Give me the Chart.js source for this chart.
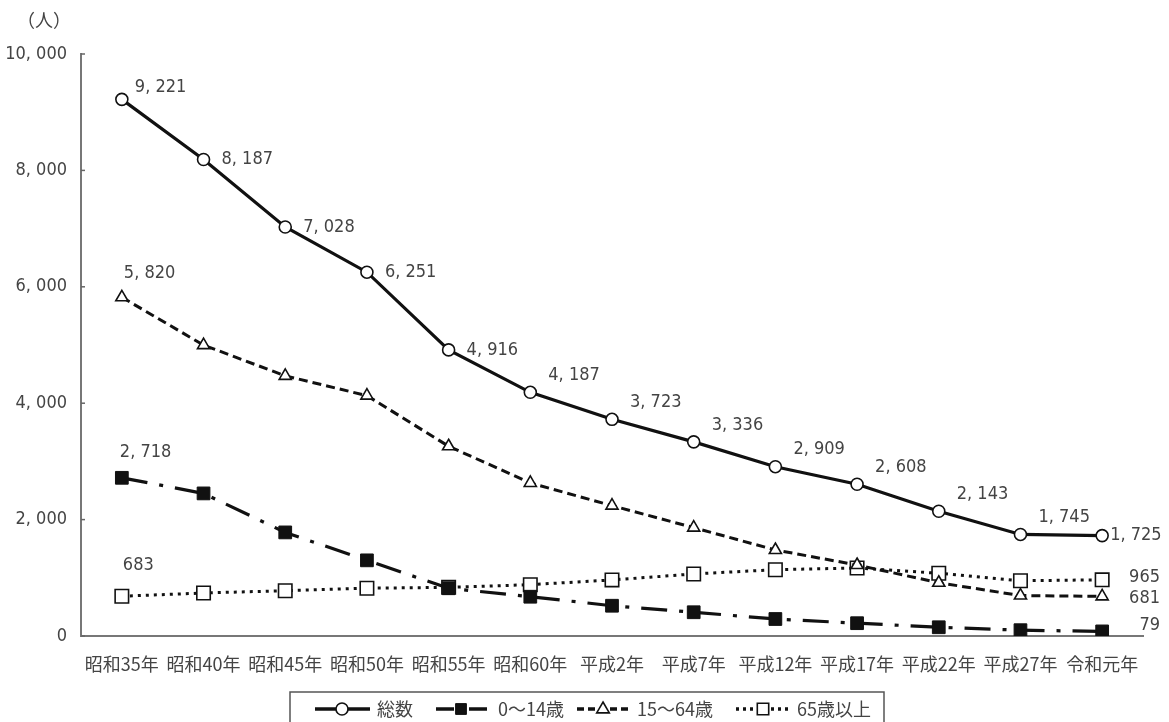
<!DOCTYPE html>
<html><head><meta charset="utf-8">
<script src="https://cdn.jsdelivr.net/npm/chart.js@4"></script>
<style>html,body{margin:0;padding:0;background:#fff}#wrap{width:1169px;height:722px;position:relative}canvas{display:block}</style>
</head><body><div id="wrap"><canvas id="c" width="1169" height="722"></canvas></div>
<script>
const categories = ['昭和35年','昭和40年','昭和45年','昭和50年','昭和55年','昭和60年','平成2年','平成7年','平成12年','平成17年','平成22年','平成27年','令和元年'];
const totalValues = [9221, 8187, 7028, 6251, 4916, 4187, 3723, 3336, 2909, 2608, 2143, 1745, 1725];
const age0to14 = [2718, 2450, 1780, 1300, 820, 675, 520, 408, 292, 220, 150, 100, 79];
const age15to64 = [5820, 4998, 4470, 4130, 3260, 2630, 2240, 1862, 1478, 1220, 915, 695, 681];
const age65plus = [683, 739, 778, 821, 836, 882, 963, 1066, 1139, 1168, 1078, 950, 965];
const seriesNames = ['総数', '0～14歳', '15～64歳', '65歳以上'];
const yTickValues = [0, 2000, 4000, 6000, 8000, 10000];
const yUnit = '（人）';

const NUM_FONT = "'DejaVu Sans Condensed', 'Liberation Sans Narrow', 'Noto Sans CJK JP', sans-serif";
const JP_FONT = "'Noto Sans CJK JP', sans-serif";
const TEXT_COLOR = '#444';

function fmt(v) {
  return v.toLocaleString('en-US').replace(/,/g, ', ');
}

const labelPlugin = {
  id: 'labels',
  afterDraw(chart) {
    const ctx = chart.ctx;
    const area = chart.chartArea;
    const yScale = chart.scales.y;
    ctx.save();
    ctx.strokeStyle = '#666';
    ctx.lineWidth = 1.5;
    yTickValues.forEach(v => {
      const py = yScale.getPixelForValue(v);
      ctx.beginPath();
      ctx.moveTo(area.left, py);
      ctx.lineTo(area.left + 4, py);
      ctx.stroke();
    });
    ctx.fillStyle = TEXT_COLOR;
    ctx.font = "18px " + JP_FONT;
    ctx.textAlign = 'center';
    ctx.textBaseline = 'middle';
    ctx.fillText(yUnit, 44, 20);

    ctx.font = "18px " + NUM_FONT;
    const mTotal = chart.getDatasetMeta(0).data;
    const n = mTotal.length;
    mTotal.forEach((pt, i) => {
      let dx = 18, dy = 0;
      if (i === 0) { dx = 13; dy = -12; }
      else if (i >= 5 && i < n - 1) { dx = 18; dy = -17; }
      else if (i === n - 1) { dx = 8; dy = 0; }
      ctx.textAlign = 'left';
      ctx.fillText(fmt(totalValues[i]), pt.x + dx, pt.y + dy);
    });
    const m1 = chart.getDatasetMeta(1).data;
    const m2 = chart.getDatasetMeta(2).data;
    const m3 = chart.getDatasetMeta(3).data;
    ctx.textAlign = 'left';
    ctx.fillText(fmt(age15to64[0]), m2[0].x + 2, m2[0].y - 24);
    ctx.fillText(fmt(age0to14[0]), m1[0].x - 2, m1[0].y - 25);
    ctx.fillText(fmt(age65plus[0]), m3[0].x + 1, m3[0].y - 31);
    ctx.textAlign = 'right';
    const rx = area.right + 17;
    ctx.fillText(fmt(age65plus[n - 1]), rx, m3[n - 1].y - 3);
    ctx.fillText(fmt(age15to64[n - 1]), rx, m2[n - 1].y + 2);
    ctx.fillText(fmt(age0to14[n - 1]), rx, m1[n - 1].y - 6);

    // legend
    const boxL = 290, boxR = 884, boxT = 692, boxB = 740;
    ctx.strokeStyle = '#555';
    ctx.lineWidth = 1.5;
    ctx.strokeRect(boxL, boxT, boxR - boxL, boxB - boxT);
    const ly = 709;
    const items = [
      { x0: 315, x1: 370, mx: 342, tx: 377 },
      { x0: 436, x1: 492, mx: 461, tx: 498 },
      { x0: 577, x1: 631, mx: 603, tx: 637 },
      { x0: 736, x1: 791, mx: 763, tx: 797 }
    ];
    const legendDash = [[], [18, 6, 3, 6], [7, 4], [3, 4]];
    chart.data.datasets.forEach((ds, i) => {
      const it = items[i];
      ctx.save();
      ctx.strokeStyle = ds.borderColor;
      ctx.lineWidth = ds.borderWidth + 0.5;
      ctx.setLineDash(legendDash[i]);
      ctx.beginPath();
      ctx.moveTo(it.x0, ly);
      ctx.lineTo(it.x1, ly);
      ctx.stroke();
      ctx.restore();
      ctx.save();
      ctx.fillStyle = ds.pointBackgroundColor;
      ctx.strokeStyle = '#111';
      ctx.lineWidth = ds.pointBorderWidth;
      ctx.beginPath();
      const r = ds.pointRadius;
      if (ds.pointStyle === 'circle') ctx.arc(it.mx, ly, r, 0, Math.PI * 2);
      else if (ds.pointStyle === 'rect') ctx.rect(it.mx - r * 0.6, ly - r * 0.6, r * 1.2, r * 1.2);
      else if (ds.pointStyle === 'triangle') {
        ctx.moveTo(it.mx, ly - r); ctx.lineTo(it.mx + r * 0.9, ly + r * 0.55); ctx.lineTo(it.mx - r * 0.9, ly + r * 0.55); ctx.closePath();
      }
      ctx.fill(); ctx.stroke();
      ctx.restore();
      ctx.fillStyle = TEXT_COLOR;
      ctx.textAlign = 'left';
      ctx.font = "18px " + JP_FONT;
      ctx.fillText(seriesNames[i], it.tx, ly);
    });
    ctx.restore();
  }
};

const common = { borderColor: '#111', pointBorderColor: '#111', tension: 0, fill: false, pointHoverRadius: 6 };

new Chart(document.getElementById('c'), {
  type: 'line',
  data: {
    labels: categories,
    datasets: [
      Object.assign({}, common, { label: seriesNames[0], data: totalValues, borderWidth: 3.2, pointStyle: 'circle', pointRadius: 6, pointBorderWidth: 1.6, pointBackgroundColor: '#fff', borderDash: [] }),
      Object.assign({}, common, { label: seriesNames[1], data: age0to14, borderWidth: 3.2, pointStyle: 'rect', pointRadius: 9, pointBorderWidth: 1, pointBackgroundColor: '#111', borderDash: [26, 12, 4, 12] }),
      Object.assign({}, common, { label: seriesNames[2], data: age15to64, borderWidth: 3, pointStyle: 'triangle', pointRadius: 7, pointBorderWidth: 1.6, pointBackgroundColor: '#fff', borderDash: [9, 5] }),
      Object.assign({}, common, { label: seriesNames[3], data: age65plus, borderWidth: 3, pointStyle: 'rect', pointRadius: 9.5, pointBorderWidth: 1.6, pointBackgroundColor: '#fff', borderDash: [3, 5] })
    ]
  },
  options: {
    responsive: false,
    animation: false,
    devicePixelRatio: 1,
    layout: { padding: { top: 54, right: 26, bottom: 0, left: 0 } },
    plugins: { legend: { display: false }, tooltip: { enabled: false } },
    scales: {
      x: {
        offset: true,
        grid: { display: false, drawTicks: false },
        border: { display: true, color: '#777', width: 2 },
        ticks: { color: TEXT_COLOR, font: { family: JP_FONT, size: 18 }, padding: 17, maxRotation: 0, autoSkip: false },
        afterFit(s) { s.height = 86; }
      },
      y: {
        min: 0, max: 10000,
        afterBuildTicks(s) { s.ticks = yTickValues.map(v => ({ value: v })); },
        grid: { display: false, drawTicks: false },
        border: { display: true, color: '#777', width: 2 },
        ticks: { color: TEXT_COLOR, font: { family: NUM_FONT, size: 18 }, padding: 14, callback: v => fmt(v) },
        afterFit(s) { s.width = 81; }
      }
    }
  },
  plugins: [labelPlugin]
});
</script>
</body></html>
